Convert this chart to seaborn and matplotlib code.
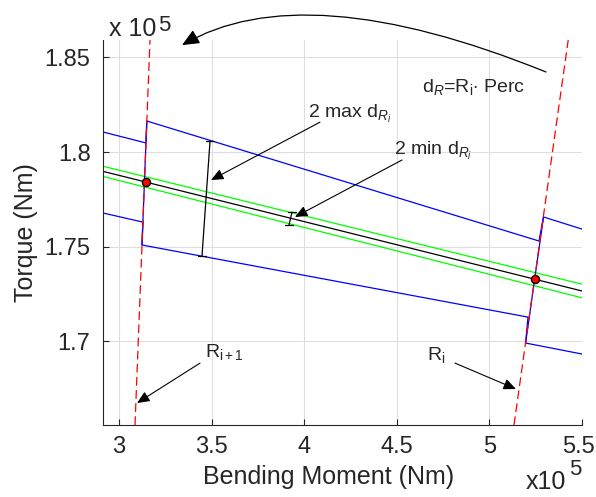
import numpy as np
import pandas as pd
import matplotlib
matplotlib.use('Agg')
import matplotlib.pyplot as plt
import matplotlib.transforms as mtransforms
from matplotlib.path import Path
from matplotlib.patches import FancyArrowPatch
import seaborn as sns

sns.set_style('ticks')
plt.rcParams['font.family'] = ['Liberation Sans', 'DejaVu Sans']
plt.rcParams['mathtext.fontset'] = 'custom'
plt.rcParams['mathtext.rm'] = 'Liberation Sans'
plt.rcParams['mathtext.it'] = 'Liberation Sans:italic'

# values in units of 1e5 (Nm)
# centre line and its +/- min band (green)
center_x = [2.9136, 5.5]
center_y = [1.7898, 1.7266]
green_up_y = [1.7925, 1.7302]
green_lo_y = [1.7871, 1.7230]

# max band (blue), broken at the two R lines
blue_up_x = [2.9136, 3.1458, 3.1501, 5.2678, 5.2921, 5.5]
blue_up_y = [1.8106, 1.8048, 1.8164, 1.7530, 1.7657, 1.7593]
blue_lo_x = [2.9136, 3.1290, 3.1242, 5.2084, 5.1954, 5.5]
blue_lo_y = [1.7678, 1.7630, 1.7509, 1.7128, 1.6991, 1.6933]
blue_r1_x = [3.1501, 3.1242]
blue_r1_y = [1.8164, 1.7509]
blue_r_x = [5.2921, 5.1954]
blue_r_y = [1.7657, 1.6991]

# R_{i+1} and R_i lines (red dashed)
r_next_x = [3.0864, 3.1674]
r_next_y = [1.6558, 1.8592]
r_i_x = [5.1328, 5.4256]
r_i_y = [1.6558, 1.8592]

# operating points
pts_x = [3.1458, 5.2462]
pts_y = [1.7842, 1.7329]

# 2 max d / 2 min d bars (bottom, top)
max_bar_x = [3.4482, 3.4914]
max_bar_y = [1.7451, 1.8058]
min_bar_x = [3.9179, 3.9341]
min_bar_y = [1.7614, 1.7683]

xticks = [3, 3.5, 4, 4.5, 5, 5.5]
xtick_labels = ['3', '3.5', '4', '4.5', '5', '5.5']
yticks = [1.7, 1.75, 1.8, 1.85]
ytick_labels = ['1.7', '1.75', '1.8', '1.85']

W, H = 596, 497
fig = plt.figure(figsize=(W / 100, H / 100), dpi=100)
ax = fig.add_axes([103 / W, 1 - 425 / H, 479 / W, 385 / H])

lw = 0.9
for yy, c in [(green_up_y, '#00ff00'), (green_lo_y, '#00ff00'), (center_y, 'black')]:
    sns.lineplot(x=center_x, y=yy, color=c, lw=lw, ax=ax, sort=False, estimator=None)

for xx, yy in [(blue_up_x, blue_up_y), (blue_lo_x, blue_lo_y),
               (blue_r1_x, blue_r1_y), (blue_r_x, blue_r_y)]:
    sns.lineplot(x=xx, y=yy, color='#0000ff', lw=lw, ax=ax, sort=False, estimator=None)

for xx, yy in [(r_next_x, r_next_y), (r_i_x, r_i_y)]:
    sns.lineplot(x=xx, y=yy, color='#ff0000', lw=lw, ax=ax, sort=False,
                 estimator=None, linestyle=(0, (7, 3.5)))

sns.scatterplot(x=pts_x, y=pts_y, color='#ff0000', edgecolor='black', s=34,
                linewidth=1, ax=ax, zorder=5)

# tilted bars with caps
cap = 0.024
for bx, by in [(max_bar_x, max_bar_y), (min_bar_x, min_bar_y)]:
    ax.plot(bx, by, color='black', lw=lw)
    for px, py in zip(bx, by):
        ax.plot([px - cap, px + cap], [py, py], color='black', lw=lw)

ax.set_xlim(2.9136, 5.5)
ax.set_ylim(1.6558, 1.8592)
ax.set_xticks(xticks, xtick_labels)
ax.set_yticks(yticks, ytick_labels)
ax.grid(True, color='#dedede', lw=0.8)
ax.set_axisbelow(True)
sns.despine(ax=ax)
for s in ['left', 'bottom']:
    ax.spines[s].set_color('#262626')
    ax.spines[s].set_linewidth(0.8)
ax.tick_params(direction='in', length=4, width=0.8, color='#262626',
               labelsize=17, labelcolor='#262626')
ax.tick_params(axis='y', pad=9)
ax.tick_params(axis='x', pad=8)
# last x label sits right on the figure edge, nudge it in a little
last = ax.get_xticklabels()[-1]
last.set_transform(last.get_transform() +
                   mtransforms.ScaledTranslation(-4 / 100, 0, fig.dpi_scale_trans))

ax.set_xlabel('Bending Moment (Nm)', fontsize=18, color='#262626')
ax.set_ylabel('Torque (Nm)', fontsize=18, color='#262626')
ax.xaxis.set_label_coords(0.47, -0.105)
ax.yaxis.set_label_coords(-0.136, 0.5)

# exponent labels
fig.text(109 / W, 1 - 36 / H, 'x 10', fontsize=18, color='#262626')
fig.text(158 / W, 1 - 31 / H, '5', fontsize=16, color='#262626')
fig.text(526 / W, 1 - 489 / H, 'x10', fontsize=18, color='#262626')
fig.text(569 / W, 1 - 475 / H, '5', fontsize=16, color='#262626')

# annotations
akw = dict(arrowstyle='-|>,head_length=0.5,head_width=0.22', color='black',
           lw=0.8, shrinkA=0, shrinkB=0, mutation_scale=15)
fs = 14
ax.text(4.0205, 1.8180, r'2 max d$_{R_i}$', fontsize=fs)
ax.annotate('', xy=(3.4968, 1.7852), xytext=(4.0853, 1.8158),
            arrowprops=akw, annotation_clip=False)
ax.text(4.4849, 1.7984, r'2 min d$_{R_i}$', fontsize=fs)
ax.annotate('', xy=(3.9503, 1.7657), xytext=(4.5281, 1.7958),
            arrowprops=akw, annotation_clip=False)
ax.text(4.6361, 1.8317, r'd$_{R}$=R$_{\mathrm{i}}$$\cdot$ Perc', fontsize=fs)
ax.text(3.4644, 1.6917, r'R$_{\mathrm{i+1}}$', fontsize=fs)
ax.annotate('', xy=(3.0972, 1.6674), xytext=(3.4374, 1.6885),
            arrowprops=akw, annotation_clip=False)
ax.text(4.6631, 1.6901, r'R$_{\mathrm{i}}$', fontsize=fs)
ax.annotate('', xy=(5.1436, 1.6748), xytext=(4.8143, 1.6885),
            arrowprops=akw, annotation_clip=False)

curve = Path([(5.3056, 1.8423), (4.0, 1.8940), (3.3402, 1.8565)],
             [Path.MOVETO, Path.CURVE3, Path.CURVE3])
arc = FancyArrowPatch(path=curve, arrowstyle='-|>,head_length=0.5,head_width=0.22',
                      mutation_scale=21, color='black', lw=0.9,
                      transform=ax.transData, clip_on=False)
ax.add_patch(arc)

fig.savefig('out.png', dpi=100)
